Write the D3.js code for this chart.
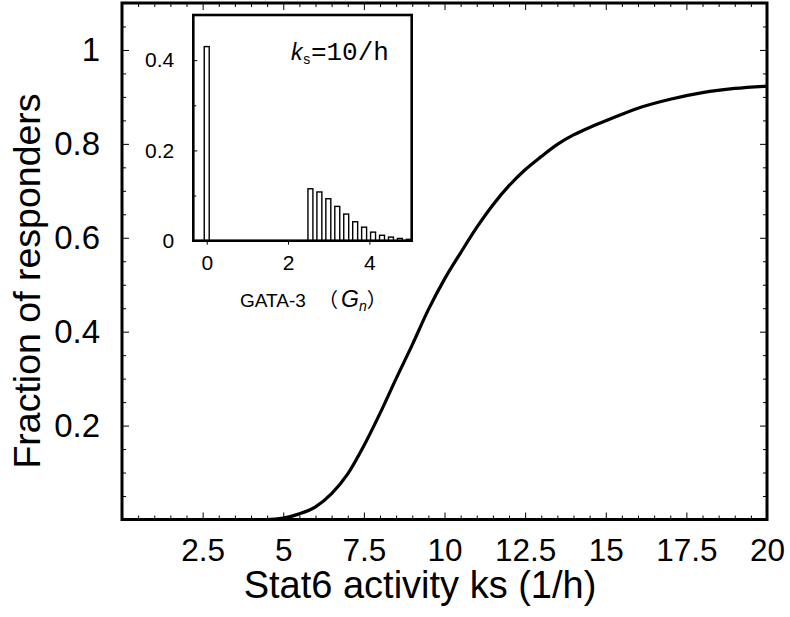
<!DOCTYPE html>
<html><head><meta charset="utf-8">
<script src="https://cdn.jsdelivr.net/npm/d3@7"></script>
<style>body{margin:0;background:#fff} svg{display:block}</style>
</head><body>
<script>
// ---- main curve data ----
const ksValues = [0, 1, 2, 3, 4, 4.5, 5, 5.5, 6, 6.5, 7, 7.5, 8, 8.5, 9, 9.5, 10, 10.5, 11, 11.5, 12, 12.5, 13, 13.5, 14, 14.5, 15, 16, 17, 18, 19, 20];
const fractionValues = [0, 0, 0, 0, 0, 0, 0.003, 0.012, 0.027, 0.055, 0.097, 0.157, 0.226, 0.300, 0.372, 0.447, 0.512, 0.568, 0.622, 0.670, 0.711, 0.745, 0.773, 0.799, 0.819, 0.835, 0.849, 0.876, 0.895, 0.909, 0.918, 0.923];
const xTickValues = [2.5, 5, 7.5, 10, 12.5, 15, 17.5, 20];
const xTickLabels = ["2.5", "5", "7.5", "10", "12.5", "15", "17.5", "20"];
const yTickValues = [0.2, 0.4, 0.6, 0.8, 1];
const yTickLabels = ["0.2", "0.4", "0.6", "0.8", "1"];
// ---- inset histogram data ----
const gataValues = [0, 2.55, 2.77, 2.99, 3.21, 3.43, 3.65, 3.87, 4.09, 4.31, 4.53, 4.75, 4.97];
const gataFreq = [0.43, 0.115, 0.108, 0.093, 0.076, 0.059, 0.042, 0.030, 0.019, 0.012, 0.008, 0.005, 0.003];
const insetXTicks = [0, 2, 4];
const insetXTickLabels = ["0", "2", "4"];
const insetYTicks = [0, 0.2, 0.4];
const insetYTickLabels = ["0", "0.2", "0.4"];

const W = 790, H = 617;
const svg = d3.select("body").append("svg").attr("width", W).attr("height", H);
const sans = "'Liberation Sans', Arial, Helvetica, sans-serif";
const mono = "'Liberation Mono', 'Courier New', monospace";

// main plot geometry
const L = 122, R = 767, T = 3, B = 519.5;
const x = d3.scaleLinear().domain([0, 20]).range([L, R]);
const y = d3.scaleLinear().domain([0, 1.1]).range([B, T]);

function styleAxis(g) {
  g.select(".domain").remove();
  g.selectAll(".tick line").attr("stroke", "#000").attr("stroke-width", 1);
}
// minor ticks
const xMinor = d3.range(0.5, 20, 0.5).filter(v => Math.abs(v / 2.5 - Math.round(v / 2.5)) > 1e-6);
const yMinor = d3.range(0.05, 1.1, 0.05).filter(v => Math.abs(v / 0.2 - Math.round(v / 0.2)) > 1e-6);

svg.append("g").attr("transform", `translate(0,${B})`)
  .call(d3.axisBottom(x).tickValues(xMinor).tickSize(-4).tickFormat("")).call(styleAxis);
svg.append("g").attr("transform", `translate(0,${T})`)
  .call(d3.axisTop(x).tickValues(xMinor).tickSize(-4).tickFormat("")).call(styleAxis);
svg.append("g").attr("transform", `translate(0,${T})`)
  .call(d3.axisTop(x).tickValues(xTickValues).tickSize(-7).tickFormat("")).call(styleAxis);
svg.append("g").attr("transform", `translate(${L},0)`)
  .call(d3.axisLeft(y).tickValues(yMinor).tickSize(-4).tickFormat("")).call(styleAxis);
svg.append("g").attr("transform", `translate(${R},0)`)
  .call(d3.axisRight(y).tickValues(yMinor).tickSize(-4).tickFormat("")).call(styleAxis);
svg.append("g").attr("transform", `translate(${R},0)`)
  .call(d3.axisRight(y).tickValues(yTickValues).tickSize(-7).tickFormat("")).call(styleAxis);

const xAx = svg.append("g").attr("transform", `translate(0,${B})`)
  .call(d3.axisBottom(x).tickValues(xTickValues).tickSize(-7).tickPadding(19)
    .tickFormat((d, i) => xTickLabels[i])).call(styleAxis);
xAx.selectAll("text").attr("font-family", sans).attr("font-size", 31.5).attr("fill", "#000");

const yAx = svg.append("g").attr("transform", `translate(${L},0)`)
  .call(d3.axisLeft(y).tickValues(yTickValues).tickSize(-7).tickPadding(22)
    .tickFormat((d, i) => yTickLabels[i])).call(styleAxis);
yAx.selectAll("text").attr("font-family", sans).attr("font-size", 33).attr("fill", "#000");

// curve
const pts = ksValues.map((k, i) => [k, fractionValues[i]]);
svg.append("path").datum(pts)
  .attr("fill", "none").attr("stroke", "#000").attr("stroke-width", 3.2)
  .attr("stroke-linejoin", "round")
  .attr("d", d3.line().x(d => x(d[0])).y(d => y(d[1])).curve(d3.curveMonotoneX));

// frame
svg.append("rect").attr("x", L).attr("y", T).attr("width", R - L).attr("height", B - T)
  .attr("fill", "none").attr("stroke", "#000").attr("stroke-width", 3);

// axis titles
svg.append("text").attr("x", 420).attr("y", 598).attr("text-anchor", "middle")
  .attr("font-family", sans).attr("font-size", 38).attr("fill", "#000")
  .text("Stat6 activity ks (1/h)");
svg.append("text").attr("transform", "translate(40,281) rotate(-90)").attr("text-anchor", "middle")
  .attr("font-family", sans).attr("font-size", 37.5).attr("fill", "#000")
  .text("Fraction of responders");

// ---- inset ----
const iL = 193.3, iR = 411.7, iT = 15, iB = 240.7;
const xi = d3.scaleLinear().domain([-0.33, 5.04]).range([iL, iR]);
const yi = d3.scaleLinear().domain([0, 0.5]).range([iB, iT]);
const inset = svg.append("g");
inset.append("rect").attr("x", iL).attr("y", iT).attr("width", iR - iL).attr("height", iB - iT)
  .attr("fill", "#fff").attr("stroke", "none");

const barW = 0.122;
inset.selectAll("rect.bar").data(gataValues).join("rect").attr("class", "bar")
  .attr("x", d => xi(d - barW / 2))
  .attr("width", d => xi(d + barW / 2) - xi(d - barW / 2))
  .attr("y", (d, i) => yi(gataFreq[i]))
  .attr("height", (d, i) => yi(0) - yi(gataFreq[i]))
  .attr("fill", "#fff").attr("stroke", "#000").attr("stroke-width", 1.4);

const ixAx = inset.append("g").attr("transform", `translate(0,${iB})`)
  .call(d3.axisBottom(xi).tickValues(insetXTicks).tickSize(4).tickPadding(10)
    .tickFormat((d, i) => insetXTickLabels[i])).call(styleAxis);
ixAx.selectAll("text").attr("font-family", sans).attr("font-size", 21).attr("fill", "#000");
const iyAx = inset.append("g").attr("transform", `translate(${iL},0)`)
  .call(d3.axisLeft(yi).tickValues(insetYTicks).tickSize(-4).tickPadding(19)
    .tickFormat((d, i) => insetYTickLabels[i])).call(styleAxis);
iyAx.selectAll("text").attr("font-family", sans).attr("font-size", 21).attr("fill", "#000");
inset.append("g").attr("transform", `translate(${iL},0)`)
  .call(d3.axisLeft(yi).tickValues([0.1, 0.3]).tickSize(-3).tickFormat("")).call(styleAxis);

inset.append("rect").attr("x", iL).attr("y", iT).attr("width", iR - iL).attr("height", iB - iT)
  .attr("fill", "none").attr("stroke", "#000").attr("stroke-width", 2.6);

// inset annotation k_s = 10/h
const ann = inset.append("text").attr("x", 291).attr("y", 60).attr("fill", "#000");
ann.append("tspan").attr("font-family", sans).attr("font-style", "italic").attr("font-size", 23).text("k");
ann.append("tspan").attr("font-family", mono).attr("font-size", 14).attr("dy", 4).text("s");
ann.append("tspan").attr("font-family", mono).attr("font-size", 26).attr("dy", -4).text("=10/h");

// inset x label
const gl = inset.append("text").attr("y", 306.7).attr("fill", "#000").attr("font-family", sans).attr("font-size", 19);
gl.append("tspan").attr("x", 240).text("GATA-3");
gl.append("tspan").attr("x", 318).attr("font-family", "'Noto Sans CJK JP', sans-serif").attr("font-size", 20).text("（");
gl.append("tspan").attr("x", 341).attr("font-style", "italic").attr("font-size", 23).text("G");
gl.append("tspan").attr("font-style", "italic").attr("font-size", 14).attr("dy", 4).text("n");
gl.append("tspan").attr("font-family", "'Noto Sans CJK JP', sans-serif").attr("font-size", 20).attr("dy", -4).text("）");
</script>
</body></html>
